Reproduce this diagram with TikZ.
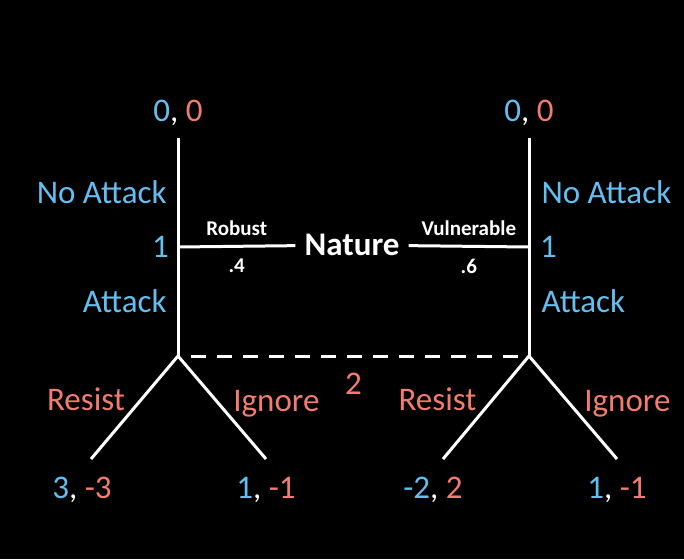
\documentclass[tikz,border=0pt]{standalone}
\usepackage{fontspec}
\setmainfont{Carlito}
\usetikzlibrary{positioning}
\definecolor{attackerColor}{RGB}{100,190,240}
\definecolor{defenderColor}{RGB}{242,125,110}
\tikzset{branch/.style={draw=white, line width=3pt}}
\tikzset{gameText/.style={text=white, inner sep=2pt, font=\fontsize{33}{36}\selectfont}}
\tikzset{attackerLabel/.style={gameText, text=attackerColor}}
\tikzset{defenderLabel/.style={gameText, text=defenderColor}}
\tikzset{chanceLabel/.style={gameText, font=\bfseries\fontsize{21}{24}\selectfont}}
\newcommand{\payoffpair}[2]{\textcolor{attackerColor}{#1}, \textcolor{defenderColor}{#2}}

\begin{document}
\begin{tikzpicture}[x=1pt, y=-1pt]
	\fill[black] (0,0) rectangle (684,559);
	% Nodes
		\node (nature) [gameText, font=\bfseries\fontsize{33}{36}\selectfont, inner xsep=9pt] at (352,245) {Nature};

		\coordinate (topL) at (178,138);
		\coordinate (oneL) at (178,247);
		\coordinate (twoL) at (178,356);
		\coordinate (topR) at (529,138);
		\coordinate (oneR) at (529,247);
		\coordinate (twoR) at (529,356);

		\coordinate (leafLL) at (91,459);
		\coordinate (leafLR) at (266,459);
		\coordinate (leafRL) at (443,459);
		\coordinate (leafRR) at (617,459);

		\node (oneLabelL) [attackerLabel, left=7pt of oneL] {1};
		\node (oneLabelR) [attackerLabel, right=9pt of oneR] {1};

		\node (payTopL) [gameText, above=10pt of topL] {\payoffpair{0}{0}};
		\node (payTopR) [gameText, above=10pt of topR] {\payoffpair{0}{0}};

		\node (payLL) [gameText, below=16pt of leafLL, xshift=-9pt] {\payoffpair{3}{-3}};
		\node (payLR) [gameText, below=16pt of leafLR] {\payoffpair{1}{-1}};
		\node (payRL) [gameText, below=16pt of leafRL, xshift=-10pt] {\payoffpair{-2}{2}};
		\node (payRR) [gameText, below=16pt of leafRR] {\payoffpair{1}{-1}};

		% Connectors
		\begin{scope}[branch]

		\draw (nature) -- node[chanceLabel, above=7pt] {Robust} node[chanceLabel, below=9pt] {.4} (oneL);
		\draw (nature) -- node[chanceLabel, above=7pt] {Vulnerable} node[chanceLabel, below=9pt] {.6} (oneR);

		\draw (topL) -- node[attackerLabel, left=8pt] {No Attack} (oneL) -- node[attackerLabel, left=8pt] {Attack} (twoL);
		\draw (topR) -- node[attackerLabel, right=9pt] {No Attack} (oneR) -- node[attackerLabel, right=9pt] {Attack} (twoR);

		\draw (twoL) -- node[defenderLabel, pos=.42, left=13pt] {Resist} (leafLL);
		\draw (twoL) -- node[defenderLabel, pos=.43, right=14pt, yshift=-3pt] {Ignore} (leafLR);
		\draw (twoR) -- node[defenderLabel, pos=.42, left=13pt] {Resist} (leafRL);
		\draw (twoR) -- node[defenderLabel, pos=.43, right=14pt, yshift=-3pt] {Ignore} (leafRR);

		\draw [dash pattern=on 15pt off 11pt, shorten <=13pt] (twoL) -- node[defenderLabel, below=14pt] {2} (twoR);

	\end{scope}

\end{tikzpicture}
\end{document}
